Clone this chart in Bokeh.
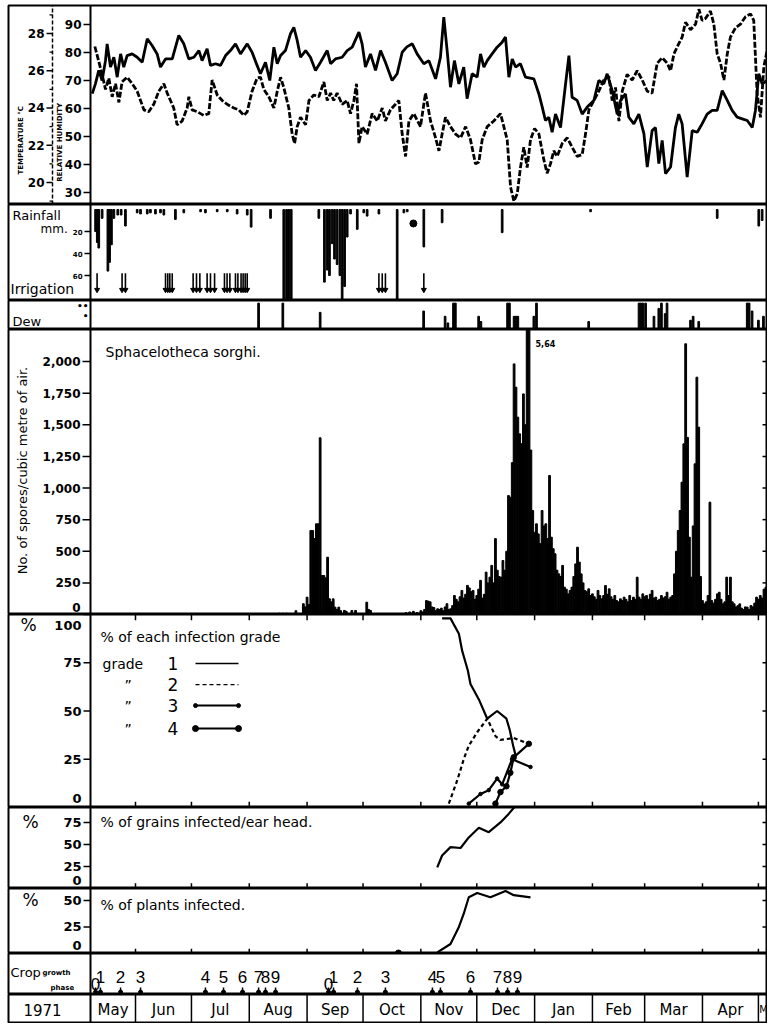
import math
from bokeh.plotting import figure
from bokeh.models import Range1d, Span
from bokeh.layouts import column
from bokeh.embed import file_html
from bokeh.resources import INLINE
from bokeh.core.properties import value

# ---------------- data (x = days since 1 May 1971) ----------------
month_labels = ["May", "Jun", "Jul", "Aug", "Sep", "Oct", "Nov", "Dec",
                "Jan", "Feb", "Mar", "Apr", "M"]
month_starts = [0, 31, 61, 92, 123, 153, 184, 214, 245, 276, 304, 335, 365]
year_label = "1971"

rh_ticks = [30, 40, 50, 60, 70, 80, 90]
rh_tick_labels = ["30", "40", "50", "60", "70", "80", "90"]
temp_ticks = [20, 22, 24, 26, 28]
temp_tick_labels = ["20", "22", "24", "26", "28"]
temp_minor_ticks = [19, 21, 23, 25, 27, 29]
rain_ticks = [20, 40, 60]
rain_tick_labels = ["20", "40", "60"]
spore_ticks = [0, 250, 500, 750, 1000, 1250, 1500, 1750, 2000]
spore_tick_labels = ["0", "250", "500", "750", "1,000", "1,250", "1,500", "1,750", "2,000"]
grade_ticks = [0, 25, 50, 75, 100]
grade_tick_labels = ["0", "25", "50", "75", "100"]
grains_ticks = [0, 25, 50, 75]
grains_tick_labels = ["0", "25", "50", "75"]
plants_ticks = [0, 25, 50]
plants_tick_labels = ["0", "25", "50"]

rh_days = [7.8, 9.5, 11.3, 13.1, 14.9, 15.8, 17.6, 19.4, 21.2, 23.0, 24.7, 26.5, 29.2,
           31.9, 34.6, 37.3, 39.9, 42.6, 44.4, 47.1, 50.7, 54.2, 56.9, 59.6, 62.3, 65.0,
           66.7, 69.4, 71.2, 73.9, 76.6, 79.3, 81.9, 84.6, 87.3, 90.9, 93.5, 96.2, 98.0,
           100.7, 103.0, 105.2, 107.0, 108.8, 111.4, 114.1, 115.9, 117.7, 119.5, 122.2,
           124.8, 127.5, 130.2, 133.8, 135.6, 138.2, 141.8, 144.5, 147.2, 150.8, 152.5,
           154.3, 157.0, 159.7, 162.4, 165.0, 168.6, 171.3, 174.0, 176.5, 179.4, 182.0,
           185.6, 188.3, 191.9, 194.5, 196.3, 198.1, 199.9, 202.0, 204.4, 207.0, 208.8,
           211.5, 214.2, 216.0, 217.8, 219.6, 222.2, 224.9, 227.6, 229.4, 231.2, 233.0,
           234.8, 237.4, 240.1, 244.6, 247.3, 249.1, 250.8, 252.6, 254.4, 256.2, 258.9,
           261.6, 263.4, 265.1, 267.8, 270.5, 273.2, 276.8, 279.4, 282.1, 283.9, 286.6,
           289.3, 291.1, 293.7, 295.5, 298.2, 300.9, 303.6, 305.4, 308.0, 309.8, 311.6,
           313.4, 315.2, 317.9, 320.5, 322.3, 324.1, 326.8, 329.5, 332.2, 334.8, 337.5,
           340.2, 342.9, 345.6, 348.3, 350.9, 353.6, 356.3, 359.0, 361.7, 363.4, 365.2,
           367.0, 369.7]
rh_values = [65.3, 68.8, 73.6, 70, 77.1, 83.1, 74.8, 78.3, 71.2, 79.5, 74.8, 78.9, 79.5,
             78.3, 76.5, 84.9, 82.5, 79.5, 74.8, 77.7, 77.7, 86.1, 83.1, 77.7, 78.3, 80.7,
             77.1, 81.3, 75.4, 76, 75.4, 78.9, 80.7, 83.1, 79.5, 83.1, 80.1, 75.4, 72.4,
             76.5, 70, 81.9, 76, 78.9, 80.7, 86.7, 89, 84.3, 78.3, 80.7,
             78.3, 73.6, 76.5, 80.7, 76, 77.7, 78.3, 80.7, 81.9, 87.3, 83.1,
             74.8, 79.5, 73.6, 80.7, 76.5, 70, 72.4, 80.1, 82, 83.1, 79.5,
             76, 77.1, 70.6, 78.3, 92.6, 80.7, 67.6, 77.1, 68.8, 74.8, 63.5,
             72.4, 71.2, 79.5, 74.8, 77.1, 79.5, 81.9, 83.7, 85.5, 71.2, 77.7,
             74.8, 76, 71.2, 70.6, 65.2, 60.5, 55.7, 56.9, 51.5, 58, 53.2,
             68.8, 78.9, 64, 62.9, 58, 60.5, 62.9, 70, 68.8, 72.4, 66.4,
             58, 62.9, 65.2, 56.9, 54.5, 58, 51, 39.1, 52.1, 53.2, 40.3,
             48.6, 36.7, 39.1, 53.2, 58, 54.5, 35.5, 52.1, 51.5, 54.5, 58,
             59.3, 59.3, 66.4, 62.9, 59.3, 56.9, 56.3, 55.7, 53.2, 59.3, 72.4,
             68.8, 70]

temp_days = [9.2, 11.3, 13.1, 14.9, 16.7, 18.5, 20.3, 22.1, 23.8, 26.5, 29.2, 31.9, 35.5,
             38.1, 40.8, 43.5, 46.2, 48.0, 51.5, 53.3, 56.0, 58.7, 59.6, 61.4, 64.1, 67.6,
             70.3, 72.1, 74.8, 77.5, 80.1, 83.7, 86.4, 89.1, 90.9, 93.5, 96.2, 98.0, 99.8,
             102.5, 105.2, 107.0, 108.8, 110.5, 113.2, 115.0, 116.3, 117.7, 119.5, 122.2,
             124.0, 126.6, 129.3, 132.0, 133.8, 135.6, 137.3, 139.1, 141.8, 144.5, 146.3,
             148.1, 149.5, 150.8, 152.5, 155.2, 157.9, 160.6, 163.3, 165.0, 167.7, 170.4,
             172.2, 174.0, 175.8, 177.6, 180.2, 183.8, 186.5, 189.2, 191.9, 193.7, 195.4,
             197.2, 199.9, 202.6, 205.3, 208.0, 210.6, 213.3, 215.1, 216.9, 219.6, 223.1,
             226.7, 228.5, 230.3, 232.1, 233.9, 235.7, 237.4, 239.2, 241.0, 242.8, 245.0,
             247.3, 250.0, 251.7, 253.5, 255.3, 257.1, 259.8, 262.5, 265.1, 267.8, 270.5,
             272.3, 274.1, 276.8, 279.4, 282.1, 284.8, 286.6, 288.4, 290.2, 292.0, 294.6,
             297.3, 300.0, 302.7, 305.4, 308.0, 310.7, 313.4, 316.1, 317.9, 319.7, 322.3,
             324.1, 325.9, 328.6, 331.3, 333.1, 334.8, 336.6, 339.3, 341.1, 342.9, 344.7,
             346.5, 348.3, 350.0, 352.7, 355.4, 358.1, 360.8, 362.5, 364.3, 366.1, 367.9,
             370.1]
temp_values = [27.3, 26.5, 25.8, 25.0, 25.6, 24.6, 25.3, 24.3, 25.4, 25.65, 25.3, 24.9, 23.9,
               23.8, 24.2, 24.9, 25.3, 24.8, 24.0, 23.1, 23.3, 24.0, 24.6, 23.9, 23.8, 23.6,
               23.7, 25.5, 24.7, 24.4, 24.2, 24.0, 23.9, 23.6, 23.8, 24.9, 25.6, 25.65, 25.0,
               24.6, 24.0, 24.9, 25.65, 25.1, 24.0, 22.6, 22.1, 23.0, 23.5, 23.1,
               24.4, 24.7, 24.6, 25.4, 24.4, 24.8, 24.4, 24.8, 24.2, 24.4, 23.7,
               24.4, 25.3, 22.1, 23.0, 22.6, 23.7, 23.3, 24.0, 23.3, 23.9, 24.2,
               24.4, 22.6, 21.4, 23.3, 23.7, 23.0, 24.8, 23.3, 22.4, 21.7, 22.6,
               23.5, 23.0, 22.6, 22.4, 23.0, 22.3, 21.0, 21.1, 22.3, 23.0, 23.3,
               23.7, 23.0, 22.3, 19.75, 19.0, 19.4, 20.8, 21.9, 20.8, 22.3, 22.9,
               22.6, 21.2, 20.5, 21.0, 21.7, 21.4, 22.1, 22.4, 21.9, 21.4, 21.5,
               22.6, 23.9, 24.4, 24.9, 25.5, 25.7, 24.4, 25.1, 23.3, 24.9, 25.8,
               25.5, 26.0, 25.5, 24.9, 24.8, 26.4, 26.7, 26.4, 26.0, 26.9, 27.45,
               27.8, 28.6, 28.2, 28.5, 29.3, 28.7, 28.8, 29.2, 28.5, 26.9, 26.4,
               25.5, 26.9, 27.8, 28.3, 28.5, 28.9, 29.05, 28.7, 24.8, 23.5, 26.2,
               27.3]

rain_days = [9.6, 10.5, 11.3, 13.1, 16.2, 17.1, 18.1, 19.4, 21.5, 23.3,
             25.6, 31.9, 33.7, 37.3, 39, 41.7, 44.4, 46.2, 52.4, 56.9,
             65.9, 68.5, 74.8, 80.2, 85.5, 90.9, 93, 103.4, 110.5, 112,
             113.2, 114.5, 129.3, 132.3, 133.8, 135, 136.4, 137.7, 139.1, 140.6,
             141.8, 143.1, 144.5, 146.3, 149.9, 153.4, 155.2, 161.5, 171.3, 174.9,
             176.7, 185.6, 195.4, 227.6, 275, 342.9, 365.2, 367]
rain_mm = [20, 30, 35, 8, 56, 48, 32, 8, 5, 5,
           15, 3, 4, 4, 3, 4, 3, 5, 9, 3,
           2, 3, 2, 2, 4, 5, 16, 8, 100, 100,
           100, 100, 8, 66, 55, 60, 31, 45, 50, 60,
           100, 70, 25, 4, 18, 3, 6, 4, 100, 3,
           2, 34, 12, 21, 2, 8, 15, 10]
rain_dot_days = [180]
rain_dot_mm = [12.7]
irrigation_days = [10.4, 23.8, 25.6, 47.1, 48.3, 49.4, 50.7, 61.9, 63.7, 65.5, 69.4, 71.2,
                   73.4, 78.7, 80.1, 81.6, 84.6, 85.9, 87.6, 88.7, 89.8, 90.9, 161.5, 163.3,
                   165.0, 185.6]

dew_days = [97, 110, 130, 185.5, 197, 198.5, 201.5, 202.5, 215, 216.2,
            230.5, 231.5, 234, 235, 236, 244.6, 246, 274,
            301, 302, 303, 304.5, 309, 311.6, 313, 315, 316,
            328.6, 330, 333, 359, 360, 361.6, 365, 367.7]
dew_level = [2, 2, 1.3, 1.4, 1, 0.5, 2, 2, 1, 0.6,
             2, 2, 1, 1, 1, 1, 2, 0.6,
             2, 2, 2, 2, 1, 1.6, 2, 1.2, 2,
             0.7, 1, 0.6, 2, 2, 1.4, 0.7, 1]

spore_days_sep = [107, 108, 109, 110, 111, 112, 113, 117, 121, 122, 123, 124, 125, 126, 127,
                  128, 129, 130, 131, 132, 133, 134, 135, 136, 137, 138, 139, 140, 141, 143,
                  144, 147, 149, 155, 156, 157]
spore_counts_sep = [8, 10, 8, 10, 8, 10, 8, 30, 85, 60, 137, 80, 664, 664, 600,
                    717, 717, 1397, 308, 308, 290, 453, 124, 100, 124, 58, 40, 58, 30, 32,
                    25, 32, 32, 97, 40, 32]
spore_days_main = list(range(176, 371))
spore_counts_main = [
    15, 0, 20, 10, 25, 0, 15, 10, 30, 20,
    40, 110, 105, 100, 60, 55, 30, 45, 40, 50,
    30, 60, 85, 40, 45, 70, 150, 120, 100, 140,
    190, 130, 160, 230, 210, 180, 190, 120, 150, 200,
    270, 130, 160, 335, 250, 295, 388, 250, 600, 350,
    300, 295, 427, 350, 500, 940, 927, 1200, 1981, 1797,
    1560, 1428, 1350, 1744, 1500, 5640, 5640, 1300, 822, 650,
    717, 637, 560, 822, 700, 717, 600, 1099, 611, 520,
    480, 350, 321, 300, 388, 216, 200, 163, 190, 216,
    300, 400, 532, 414, 321, 250, 190, 180, 203, 150,
    163, 140, 120, 190, 150, 124, 150, 229, 160, 203,
    140, 120, 150, 110, 100, 124, 110, 137, 120, 100,
    150, 110, 137, 120, 295, 137, 120, 163, 140, 150,
    120, 160, 190, 130, 137, 110, 120, 150, 130, 140,
    176, 120, 137, 150, 321, 500, 664, 822, 1046, 1349,
    2140, 1400, 611, 295, 700, 1191, 1876, 1481, 300, 110,
    84, 100, 150, 888, 110, 90, 120, 163, 176, 120,
    84, 100, 295, 150, 295, 100, 84, 60, 70, 84,
    50, 40, 60, 58, 40, 71, 60, 90, 137, 120,
    150, 130, 200, 216, 180]
spore_peak_day = 245.5
spore_peak_text = "5,64"
spore_peak_text_y = 2142

grade1_days = [195.4, 199.9, 204.4, 206.2, 209.2, 210.6, 215.1, 219.6, 224.9, 229.9, 231.7, 233.5, 234.8]
grade1_pct = [98, 98, 90, 81, 71, 64, 56, 46, 50, 46, 40, 32, 27]
grade2_days = [199, 203.5, 207, 209.7, 214.2, 219.6, 224, 226.7, 233.8, 241.9]
grade2_pct = [2, 14, 25, 32, 39, 46, 37, 35, 36, 33]
grade3_days = [209.7, 216, 220.4, 224.9, 227.6, 232.9, 242.8]
grade3_pct = [2, 7, 9, 15, 12, 25, 21]
grade4_days = [224, 226.7, 229.9, 232, 233.8, 241.9]
grade4_pct = [2, 8, 11, 18, 26, 33]

grains_days = [192.8, 195.4, 199.9, 205.3, 209.7, 215.1, 220.4, 226.7, 231.2, 236]
grains_pct = [24, 37.5, 47, 46, 58, 69, 64, 75, 85, 97]

plants_days = [192.8, 199.9, 204.4, 207, 209.7, 214.2, 221.3, 229.4, 233.8, 242.8]
plants_pct = [1, 9, 25, 37.5, 53, 57, 53, 59, 55, 53]
plants_zero_days = [172]

crop_phase_days = [9.6, 12.2, 23, 33.7, 68.5, 78.2, 88.4, 97, 100.7, 106.1,
                   134.5, 137.2, 150, 165, 190.2, 194.5, 210.6, 225.1, 230.5, 235.8]
crop_phase_labels = ["0", "1", "2", "3", "4", "5", "6", "7", "8", "9",
                     "0", "1", "2", "3", "4", "5", "6", "7", "8", "9"]

# ---------------- layout / style ----------------
FONT = "DejaVu Sans"
W = 767                 # figure width (px)
FRAME_L = 8             # left outer border of every row
PX0 = 90                # px where the time axis starts (column separator)
SCALE = 1.865           # px per day
X0 = 6.87               # day at the column separator
XL = X0 - (PX0 - FRAME_L) / SCALE
X1 = X0 + (W - PX0) / SCALE
xr = Range1d(XL, X1)


def cx(px):
    """day coordinate of a pixel column (left-column placement)."""
    return X0 + (px - PX0) / SCALE


def make_fig(h, yr, top=0):
    p = figure(width=W, height=h, x_range=xr, y_range=yr, output_backend="svg",
               toolbar_location=None, x_axis_location=None, y_axis_location=None,
               min_border_left=FRAME_L, min_border_right=0, min_border_top=top,
               min_border_bottom=0,
               background_fill_color="white", border_fill_color="white",
               outline_line_color="black", outline_line_width=2)
    p.grid.visible = False
    p.add_layout(Span(location=X0, dimension="height", line_color="black", line_width=2))
    return p


def txt(p, x, y, t, size="13px", style="normal", align="left", baseline="middle",
        angle=0.0, font=FONT, yname=None):
    kw = {"y_range_name": yname} if yname else {}
    p.text(x=[x], y=[y], text=[t], text_font=value(font), text_font_size=size,
           text_font_style=style, text_align=align, text_baseline=baseline,
           angle=angle, text_color="black", **kw)


def yaxis(p, ticks, labels, at=PX0, tick_len=7, size="12px", label_y=None,
          minor=None, minor_len=3, yname=None, style="bold"):
    kw = {"y_range_name": yname} if yname else {}
    n = len(ticks)
    p.segment(x0=[cx(at - tick_len)] * n, y0=ticks, x1=[cx(at)] * n, y1=ticks,
              line_color="black", line_width=1.5, **kw)
    if minor:
        m = len(minor)
        p.segment(x0=[cx(at - minor_len)] * m, y0=minor, x1=[cx(at)] * m, y1=minor,
                  line_color="black", line_width=1.2, **kw)
    p.text(x=[cx(at - tick_len - 2)] * n, y=label_y or ticks, text=labels,
           text_font=value(FONT), text_font_size=size, text_font_style=style,
           text_align="right", text_baseline="middle", text_color="black", **kw)


def right_ticks(p, ticks, tick_len=5):
    n = len(ticks)
    p.segment(x0=[X1 - tick_len / SCALE] * n, y0=ticks, x1=[X1] * n, y1=ticks,
              line_color="black", line_width=1.5)


def month_ticks(p, y0, y1):
    xs = month_starts[1:]
    p.segment(x0=xs, y0=[y0] * len(xs), x1=xs, y1=[y1] * len(xs),
              line_color="black", line_width=1.5)


UP = math.pi / 2

# 1. temperature / relative humidity  (frame 5..204)
p1 = make_fig(204, Range1d(25.71, 96.79), top=5)
p1.extra_y_ranges = {"temp": Range1d(18.82, 29.5)}
yaxis(p1, rh_ticks, rh_tick_labels, at=PX0, tick_len=7, size="12px")
yaxis(p1, temp_ticks, temp_tick_labels, at=52, tick_len=6, size="12px",
      minor=temp_minor_ticks, yname="temp")
p1.segment(x0=[cx(52)], y0=[18.82], x1=[cx(52)], y1=[29.5], y_range_name="temp",
           line_color="black", line_width=1.5, line_dash="4 2")
txt(p1, cx(20), 48.6, "TEMPERATURE °C", "7px", "bold", align="center", angle=UP)
txt(p1, cx(59), 47.9, "RELATIVE HUMIDITY", "7px", "bold", align="center", angle=UP)
p1.line(rh_days, rh_values, line_color="black", line_width=2.8)
p1.line(temp_days, temp_values, y_range_name="temp", line_color="black",
        line_width=2.8, line_dash="6 2")

# 2. rainfall / irrigation  (204..300)
p2 = make_fig(96, Range1d(82.7, -4.55))
yaxis(p2, rain_ticks, rain_tick_labels, tick_len=6, size="7px")
p2.vbar(x=rain_days, top=rain_mm, bottom=0, width=0.9, color="black")
p2.scatter(rain_dot_days, rain_dot_mm, size=7, color="black")
n_irr = len(irrigation_days)
p2.segment(x0=irrigation_days, y0=[58] * n_irr, x1=irrigation_days, y1=[73] * n_irr,
           line_color="black", line_width=1.6)
p2.scatter(irrigation_days, [73] * n_irr, size=5, marker="inverted_triangle", color="black")
txt(p2, cx(12), 5.5, "Rainfall", "13px")
txt(p2, cx(40), 17.3, "mm.", "12px")
txt(p2, cx(10), 71.8, "Irrigation", "14px")

# 3. dew  (300..329)
p3 = make_fig(29, Range1d(0, 2.2))
p3.vbar(x=dew_days, top=dew_level, bottom=0, width=0.9, color="black")
txt(p3, cx(12), 0.62, "Dew", "13px")
txt(p3, cx(88), 1.8, "••", "9px", "bold", align="right")
txt(p3, cx(88), 1.06, "•", "9px", "bold", align="right")

# 4. spores  (329..614)
p4 = make_fig(285, Range1d(0, 2253))
yaxis(p4, spore_ticks, spore_tick_labels, tick_len=8, size="12px",
      label_y=[t if t > 0 else 55 for t in spore_ticks])
right_ticks(p4, spore_ticks[1:])
p4.vbar(x=spore_days_sep, top=spore_counts_sep, bottom=0, width=0.95, color="black")
p4.vbar(x=spore_days_main, top=spore_counts_main, bottom=0, width=0.95, color="black")
txt(p4, cx(22), 1138, "No. of spores/cubic metre of air.", "13px", align="center", angle=UP)
txt(p4, cx(105), 2079, "Sphacelotheca sorghi.", "14px")
txt(p4, spore_peak_day, spore_peak_text_y, spore_peak_text, "8px", "bold")

# 5. infection grades  (614..807)
p5 = make_fig(193, Range1d(0, 100))
yaxis(p5, grade_ticks, grade_tick_labels, size="13px",
      label_y=[4.5 if t == 0 else (94.3 if t == 100 else t) for t in grade_ticks])
right_ticks(p5, [25, 50, 75])
month_ticks(p5, 100, 97)
month_ticks(p5, 0, 3)
p5.line(grade1_days, grade1_pct, line_color="black", line_width=2.2)
p5.line(grade2_days, grade2_pct, line_color="black", line_width=2.2, line_dash="4 3")
p5.line(grade3_days, grade3_pct, line_color="black", line_width=2.2)
p5.scatter(grade3_days, grade3_pct, size=3.5, color="black")
p5.line(grade4_days, grade4_pct, line_color="black", line_width=2.2)
p5.scatter(grade4_days, grade4_pct, size=5.5, color="black")
txt(p5, cx(20), 94.5, "%", "17px")
txt(p5, cx(100), 88.5, "% of each  infection  grade", "14px")
leg_y = [74.6, 63.7, 52.8, 40.9]
leg_prefix = ["grade", "\u201d", "\u201d", "\u201d"]
for i in range(4):
    txt(p5, cx(102) if i == 0 else cx(124), leg_y[i], leg_prefix[i], "14px")
    txt(p5, cx(167), leg_y[i], str(i + 1), "17px")
lx0, lx1 = cx(195), cx(238)
p5.segment(x0=[lx0], y0=[leg_y[0]], x1=[lx1], y1=[leg_y[0]], line_color="black", line_width=1.5)
p5.segment(x0=[lx0], y0=[leg_y[1]], x1=[lx1], y1=[leg_y[1]], line_color="black", line_width=1.2,
           line_dash="4 3")
p5.segment(x0=[lx0], y0=[leg_y[2]], x1=[lx1], y1=[leg_y[2]], line_color="black", line_width=2)
p5.scatter([lx0, lx1], [leg_y[2]] * 2, size=4, color="black")
p5.segment(x0=[lx0], y0=[leg_y[3]], x1=[lx1], y1=[leg_y[3]], line_color="black", line_width=2)
p5.scatter([lx0, lx1], [leg_y[3]] * 2, size=6, color="black")

# 6. grains infected  (807..888)
p6 = make_fig(81, Range1d(0, 92))
yaxis(p6, grains_ticks, grains_tick_labels, size="13px",
      label_y=[t if t > 0 else 9 for t in grains_ticks])
right_ticks(p6, grains_ticks[1:])
month_ticks(p6, 0, 6)
p6.line(grains_days, grains_pct, line_color="black", line_width=2.2)
txt(p6, cx(22), 75, "%", "17px")
txt(p6, cx(100), 75, "% of grains  infected/ear head.", "14px")

# 7. plants infected  (888..953)
p7 = make_fig(65, Range1d(0, 61.3))
yaxis(p7, plants_ticks, plants_tick_labels, size="13px",
      label_y=[t if t > 0 else 8 for t in plants_ticks])
right_ticks(p7, plants_ticks[1:])
month_ticks(p7, 0, 4.5)
p7.line(plants_days, plants_pct, line_color="black", line_width=2.2)
p7.scatter(plants_zero_days, [0.5] * len(plants_zero_days), size=6, color="black")
txt(p7, cx(22), 50, "%", "17px")
txt(p7, cx(100), 45.3, "% of plants  infected.", "14px")

# 8. crop growth phase  (953..994)
p8 = make_fig(41, Range1d(0, 1))
ys = [0.12 if t == "0" else 0.29 for t in crop_phase_labels]
p8.text(x=crop_phase_days, y=ys, text=crop_phase_labels, text_font=value("Liberation Sans"),
        text_font_size="17px", text_align="center", text_baseline="bottom", text_color="black")
nc = len(crop_phase_days)
p8.segment(x0=crop_phase_days, y0=[0.05] * nc, x1=crop_phase_days, y1=[0.17] * nc,
           line_color="black", line_width=1.5)
p8.scatter(crop_phase_days, [0.06] * nc, size=4, color="black")
txt(p8, cx(10), 0.54, "Crop", "13px")
txt(p8, cx(42), 0.52, "growth", "7px", "bold")
txt(p8, cx(50), 0.17, "phase", "7px", "bold")

# 9. months  (994..1023)
p9 = make_fig(29, Range1d(0, 1))
mx = [((max(month_starts[i], X0) + month_starts[i + 1]) / 2) for i in range(len(month_starts) - 1)]
p9.text(x=mx, y=[0.47] * len(mx), text=month_labels[:-1], text_font=value(FONT),
        text_font_size="15px", text_align="center", text_baseline="middle", text_color="black")
p9.text(x=[month_starts[-1] + 0.5], y=[0.47], text=[month_labels[-1]], text_font=value(FONT),
        text_font_size="10px", text_align="left", text_baseline="middle", text_color="black")
ms = month_starts[1:]
p9.segment(x0=ms, y0=[0] * len(ms), x1=ms, y1=[1] * len(ms), line_color="black", line_width=1.5)
txt(p9, cx(42), 0.47, year_label, "15px", align="center")

layout = column(p1, p2, p3, p4, p5, p6, p7, p8, p9, spacing=0)
open("out.html", "w").write(file_html(layout, INLINE))
